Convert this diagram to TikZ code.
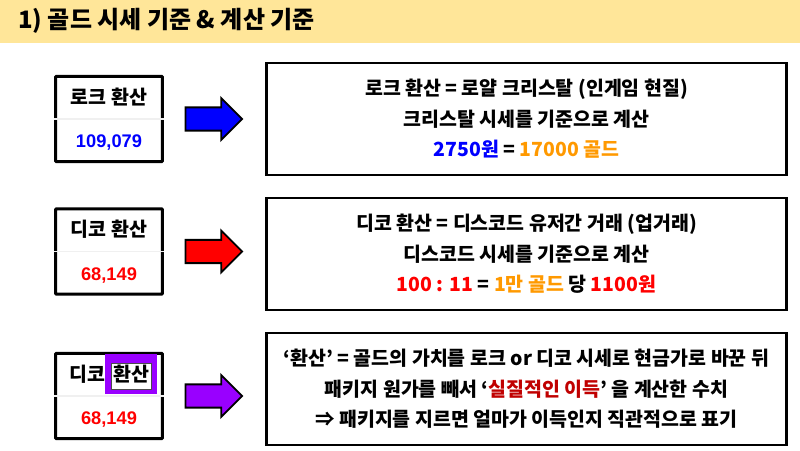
\documentclass[tikz,border=0pt]{standalone}
\usepackage{fontspec}
\setmainfont{Noto Sans CJK KR}
\newfontfamily\numfont{Liberation Sans}
\usetikzlibrary{shapes.arrows}
\definecolor{headbar}{HTML}{FFE699}
\definecolor{goldtxt}{HTML}{FF9900}
\definecolor{violet}{HTML}{9900FF}
\definecolor{darkred}{HTML}{C00000}
\tikzstyle{card} = [rectangle, minimum width=80pt, minimum height=64pt, draw=black, line width=2.25pt, rounded corners=0.5pt, fill=white]
\tikzstyle{cardhead} = [font=\fontsize{14.6}{15}\selectfont\bfseries, inner sep=0pt]
\tikzstyle{cardval} = [font=\fontsize{13.7}{16}\selectfont\numfont\bfseries, inner sep=0pt]
\tikzstyle{infobox} = [rectangle, minimum width=390pt, minimum height=84pt, draw=black, line width=1.6pt, align=center, font=\fontsize{14.6}{22.9}\selectfont\bfseries]
\tikzstyle{pointer} = [single arrow, minimum height=42.5pt, minimum width=30pt, single arrow head extend=7pt, single arrow tip angle=90, draw=black, line width=1.4pt, inner xsep=0pt, inner ysep=8pt]
\tikzstyle{rowline} = [draw=black!6, line width=0.8pt]

\begin{document}
\begin{tikzpicture}[x=0.75pt, y=-0.75pt, node distance=75pt]
    \useasboundingbox (0,0) rectangle (800,450);
    \fill [headbar] (0,0) rectangle (800,43);
    \node (title) at (18,21) [anchor=west, inner sep=0pt, font=\fontsize{18}{20}\selectfont\bfseries] {1) 골드 시세 기준 \& 계산 기준};

    \node (card1) at (109,119) [card] {};
    \node (card2) at (109,251.5) [card] {};
    \node (card3) at (109,396) [card] {};

    \draw [rowline] (card1.west) -- (card1.east);
    \draw [rowline] (card2.west) -- (card2.east);
    \draw [rowline] (card3.west) -- (card3.east);

    \node (head1) [cardhead, yshift=16.5pt] at (card1) {로크 환산};
    \node (val1)  [cardval, yshift=-18pt, text=blue] at (card1) {109,079};
    \node (head2) [cardhead, yshift=16.5pt] at (card2) {디코 환산};
    \node (val2)  [cardval, yshift=-18pt, text=red] at (card2) {68,149};

    \node (mark3) [rectangle, fill=violet, minimum width=39pt, minimum height=30pt, inner sep=0pt, xshift=16.5pt, yshift=16.5pt] at (card3) {};
    \node (hole3) [rectangle, draw=black!70, line width=0.5pt, fill=white, minimum width=30pt, minimum height=19.5pt, inner sep=0pt, yshift=-1.5pt] at (mark3) {};
    \node (head3a) [cardhead, xshift=-16.5pt, yshift=16.5pt] at (card3) {디코};
    \node (head3b) [cardhead, xshift=16.5pt, yshift=16.5pt] at (card3) {환산};
    \node (val3)  [cardval, yshift=-18pt, text=red] at (card3) {68,149};

    \node (arrow1) [pointer, fill=blue, right of=card1, xshift=-0.75pt] {};
    \node (arrow2) [pointer, fill=red, right of=card2, xshift=-0.75pt] {};
    \node (arrow3) [pointer, fill=violet, right of=card3, xshift=-0.75pt] {};

    \node (info1) at (526.5,119) [infobox] {로크 환산 = 로얄 크리스탈 (인게임 현질)\\크리스탈 시세를 기준으로 계산\\\textcolor{blue}{2750원} = \textcolor{goldtxt}{17000 골드}};
    \node (info2) at (526.5,254) [infobox] {디코 환산 = 디스코드 유저간 거래 (업거래)\\디스코드 시세를 기준으로 계산\\\textcolor{red}{100 : 11} = \textcolor{goldtxt}{1만 골드} 당 \textcolor{red}{1100원}};
    \node (info3) at (526.5,389) [infobox] {`환산' = 골드의 가치를 로크 or 디코 시세로 현금가로 바꾼 뒤\\패키지 원가를 빼서 `\textcolor{darkred}{실질적인 이득}' 을 계산한 수치\\⇒ 패키지를 지르면 얼마가 이득인지 직관적으로 표기};

\end{tikzpicture}
\end{document}
